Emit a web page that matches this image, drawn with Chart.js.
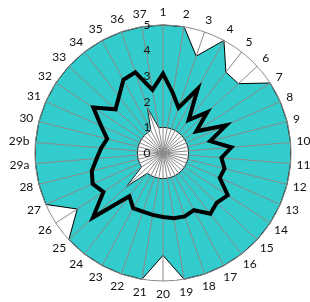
<!DOCTYPE html>
<html>
<head>
<meta charset="utf-8">
<script src="https://cdn.jsdelivr.net/npm/chart.js@4.4.1/dist/chart.umd.min.js"></script>
<style>
html,body{margin:0;padding:0;background:#fff;}
#c{display:block;}
</style>
</head>
<body>
<canvas id="c" width="310" height="302"></canvas>
<script>
const categories = ['1','2','3','4','5','6','7','8','9','10','11','12','13','14','15','16','17','18','19','20',
  '21','22','23','24','25','26','27','28','29a','29b','30','31','32','33','34','35','36','37'];
const tickLabels = ['0','1','2','3','4','5'];

// outer (turquoise) series
const outerValues = [5,5,4,5,4,4,5,5,5,5, 5,5,5,5,5,5,5,5,5,4, 5,5,5,5,5,4,5,5,5,5, 5,5,5,5,5,5,5,5];
// thick black line series
const lineValues = [3.10,2.36,1.87,2.85,1.63,2.35,1.55,2.69,1.90,2.68,
  2.29,2.48,2.42,3.02,2.86,3.01,2.54,2.62,2.58,2.50,
  2.45,2.42,2.45,2.14,3.72,2.78,3.00,2.87,2.60,2.42,
  2.25,2.64,3.25,2.52,2.80,3.25,3.33,2.50];
// inner (white) series
const innerValues = [1,1,1,1,1,1,1,1,1,1, 1,1,1,1,1,1,1,1,1,1, 1,1,1,1,1.95,1,1,1,1,1, 1,1,1,1,1,1,1.87,1];

const LINE_INDEX = 0;
const FONT = '12px Lato';
const lateLine = {
  id: 'lateLine',
  beforeDatasetDraw(chart, args) {
    if (args.index === LINE_INDEX) return false;
  },
  afterDraw(chart) {
    chart.getDatasetMeta(LINE_INDEX).controller.draw();
    const s = chart.scales.r;
    const ctx = chart.ctx;
    ctx.save();
    ctx.font = FONT;
    ctx.fillStyle = '#111';
    ctx.textAlign = 'center';
    ctx.textBaseline = 'middle';
    // category labels around the outside
    categories.forEach((lab, i) => {
      const tw = ctx.measureText(lab).width;
      const a = s.getIndexAngle(i);
      const sn = Math.sin(a), cs = Math.cos(a);
      const extra = Math.sqrt(Math.pow(sn * tw / 2, 2) + Math.pow(cs * 7.2, 2));
      const p = s.getPointPosition(i, s.drawingArea + 6 + extra);
      ctx.fillText(lab, p.x, p.y);
    });
    // value ticks
    s.ticks.forEach((t, i) => {
      const d = s.getDistanceFromCenterForValue(t.value);
      ctx.fillText(tickLabels[i], s.xCenter - 16, s.yCenter - d);
    });
    ctx.restore();
  }
};

new Chart(document.getElementById('c'), {
  type: 'radar',
  data: {
    labels: categories,
    datasets: [
      { label: 'line', data: lineValues, borderColor: '#000', borderWidth: 4, fill: false,
        pointRadius: 0, pointHoverRadius: 0, order: 1 },
      { label: 'inner', data: innerValues, backgroundColor: '#ffffff', borderColor: '#222', borderWidth: 1,
        fill: true, pointRadius: 0, pointHoverRadius: 0, order: 2 },
      { label: 'outer', data: outerValues, backgroundColor: '#33cccc', borderColor: '#000', borderWidth: 1,
        fill: true, pointRadius: 0, pointHoverRadius: 0, order: 3 }
    ]
  },
  options: {
    responsive: false,
    animation: false,
    layout: { padding: { left: 35, right: 19, top: 25, bottom: 21 } },
    plugins: { legend: { display: false }, tooltip: { enabled: false } },
    elements: { line: { tension: 0, borderJoinStyle: 'miter' } },
    scales: {
      r: {
        min: 0, max: 5, z: 1,
        ticks: { stepSize: 1, display: false },
        grid: { z: 1, circular: true, lineWidth: 1,
          color: (ctx) => (ctx.tick && ctx.tick.value === 5) ? '#8a8a8a' : 'rgba(0,0,0,0)' },
        angleLines: { color: '#8a8a8a', lineWidth: 1 },
        pointLabels: { display: false }
      }
    }
  },
  plugins: [lateLine]
});
</script>
</body>
</html>
